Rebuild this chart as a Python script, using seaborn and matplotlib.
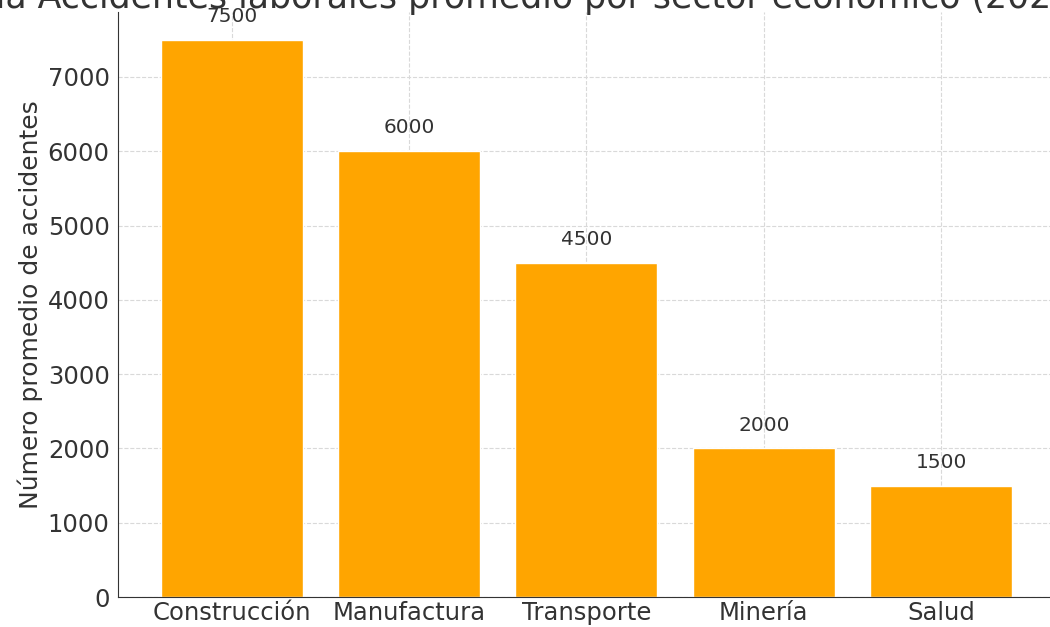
import matplotlib
matplotlib.use("Agg")
import matplotlib.pyplot as plt
import seaborn as sns
import pandas as pd

# Average workplace accidents by economic sector
sectores = ["Construcción", "Manufactura", "Transporte", "Minería", "Salud"]
accidentes = [7500, 6000, 4500, 2000, 1500]
y_ticks = [0, 1000, 2000, 3000, 4000, 5000, 6000, 7000]

titulo = "Tabla Accidentes laborales promedio por sector económico (2023)"
etiqueta_y = "Número promedio de accidentes"

sns.set_style("whitegrid", {
    "grid.linestyle": "--",
    "grid.color": "#d9d9d9",
    "axes.edgecolor": "#333333",
})
plt.rcParams["font.family"] = ["DejaVu Sans"]

df = pd.DataFrame({"sector": sectores, "accidentes": accidentes})

fig = plt.figure(figsize=(10.5, 6.27), dpi=100)
ax = fig.add_axes([0.1124, 0.0478, 0.8921, 0.9331])

sns.barplot(data=df, x="sector", y="accidentes", color="#FFA500",
            saturation=1, width=0.8, ax=ax, zorder=2)

ax.set_xlim(-0.64, len(sectores) - 0.36)
ax.set_ylim(0, max(accidentes) * 1.05)
ax.set_yticks(y_ticks)
ax.set_xlabel("")
ax.set_ylabel(etiqueta_y, fontsize=18, color="#333333", labelpad=3.5)
ax.tick_params(axis="both", labelsize=17.5, colors="#333333",
               direction="in", length=5, width=1, pad=6)
ax.tick_params(axis="x", pad=3)
ax.grid(True, linestyle="--", color="#d9d9d9", linewidth=0.8, zorder=0)
ax.set_axisbelow(True)
sns.despine(ax=ax, top=True, right=True)

for i, v in enumerate(accidentes):
    ax.annotate(f"{v}", (i, v), xytext=(0, 10), textcoords="offset points",
                ha="center", va="bottom", fontsize=14.5, color="#333333")

fig.text(-0.06, 1 - 8 / 627, titulo, ha="left", va="baseline",
         fontsize=25, color="#333333")

fig.savefig("out.png", dpi=100)
